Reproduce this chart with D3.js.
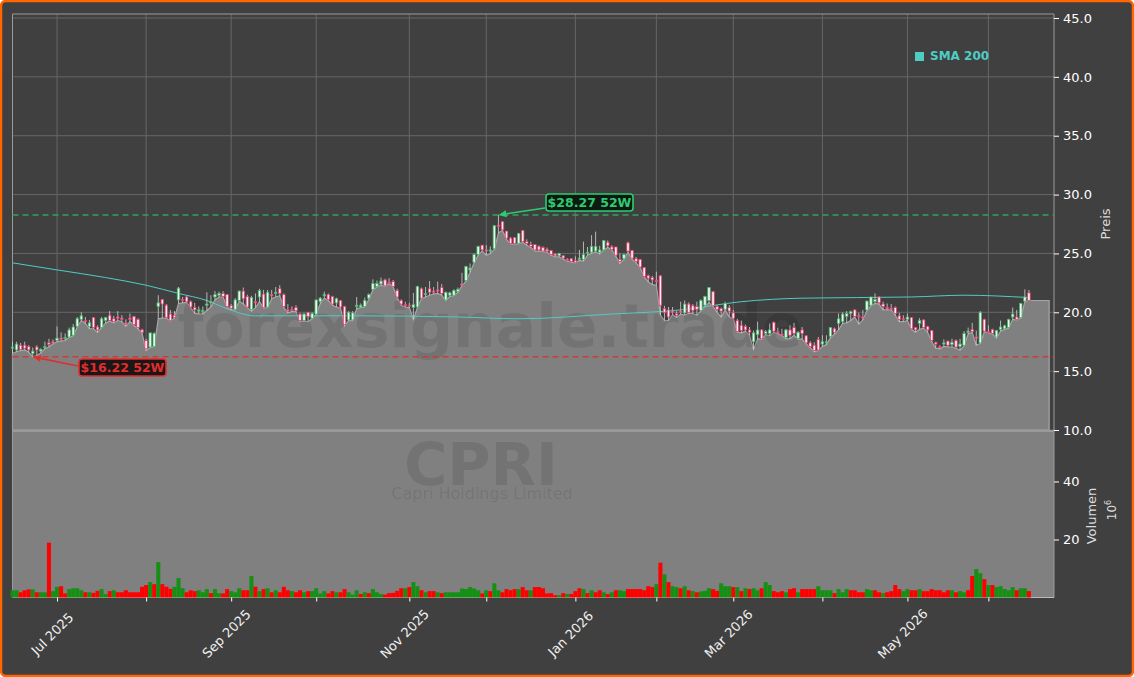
<!DOCTYPE html>
<html><head><meta charset="utf-8">
<script src="https://cdn.jsdelivr.net/npm/d3@7/dist/d3.min.js"></script>
<style>html,body{margin:0;padding:0;background:#fff}svg{display:block}text{font-family:"DejaVu Sans",sans-serif}</style>
</head><body><svg id="c" width="1134" height="677"></svg>
<script>
const opens=[16.95,16.8,17.2,17.2,17.1,16.5,17.05,16.7,17,17.4,
17.5,17.6,17.8,17.8,17.9,18.05,18.8,19.4,19.3,18.8,
19.55,18.75,18.7,19.3,19.75,19.45,19.6,19.5,19.1,19.5,
19.65,19.4,18.5,17.6,17.05,17.1,20.5,21.1,20.6,19.85,
19.75,21.05,21.1,21.3,20.9,20.4,20.1,20.1,20.6,20.8,
21.3,21.45,21.6,21.5,20.55,20.25,21,21.8,21.35,20.25,
20.9,21.3,21.55,20.45,21.5,21.6,22,21.5,20.2,20.25,
20.4,19.85,19.3,20,19.5,19.85,20.9,21.4,21.5,21.35,
20.8,21,20.5,19.35,19.35,20.5,20.45,20.5,21.2,21.95,
22.2,22.4,22.75,22.55,22.6,21.85,21,20.65,20.6,20.4,
20.45,22,21.5,22,21.8,21.9,22.1,21.05,21.45,21.45,
21.75,22.4,22.7,23.6,24.25,24.9,25.7,25.3,25.2,25.4,
27.4,27.7,26.9,26.3,26.35,25.85,26.95,26,25.75,25.75,
25.6,25.5,25.35,25.25,24.95,24.8,24.8,24.5,24.55,24.4,
24.5,24.5,25.05,25.1,25.2,25.1,25.3,25.95,25.55,25.55,
24.5,24.55,25.9,25.25,24.55,24.5,23.8,23.1,22.95,22.7,
23.1,20.3,20.2,20.1,19.9,20.1,19.95,20.7,20.55,20.5,
20.15,20.6,21,21.75,20.5,20.3,20.25,20.4,19.95,19.3,
18.9,18.8,18.5,17.5,18.1,18.5,18.2,18.2,19.15,18.35,
18.15,17.85,18.5,18.7,17.8,18.5,18,17.4,17.2,17.7,
17.3,17.4,17.95,18.6,19.05,19.2,19.65,19.9,20.2,19.7,
19.6,20.2,20.6,20.9,21.3,20.7,20.4,20.35,20.4,19.7,
19.45,19.4,19.55,18.7,19.05,19.35,18.8,18.45,17.45,17.1,
17.3,17.55,17.25,17.6,17.1,17.2,18.3,18.55,17.9,17.4,
19.4,18.35,18.55,17.9,18.55,18.6,18.7,19.6,19.6,19.55,
20.95,21.65];
const closes=[17.05,17.3,16.85,16.95,16.8,16.7,16.8,16.85,17.1,17.25,
17.4,17.8,17.7,17.85,18.5,18.75,19.45,19.7,19.2,19.1,
18.7,18.5,19.45,19.55,19.3,19.2,19.5,19.4,19,19.4,
18.95,18.7,18.3,16.9,18.25,18.2,20.8,20.7,19.55,19.3,
19.55,22.05,21,20.9,20.45,20.2,20.2,20.15,20.7,20.9,
21.5,21.6,21.35,20.5,20.35,21.05,21.8,21.15,20.45,21.25,
20.8,21.85,20.4,21.7,21.4,21.7,21.6,20.5,20.1,20.2,
20.13,19.3,19.85,19.65,19.9,21.05,21.2,21.5,21.1,20.7,
21.15,20.45,18.95,20,19.95,20.6,20.6,21,21.5,22.45,
22.45,22.65,22.25,22.5,22.2,21.3,20.7,20.6,20.55,20.65,
22.2,21.2,21.6,21.7,21.7,21.8,21.6,21.7,21.65,21.85,
21.95,22.3,23.9,23.75,24.9,25.6,25.3,25.2,25.3,27.35,
27.3,27,26.3,25.85,25.85,26.7,26,25.85,25.6,25.3,
25.3,25.2,25.2,24.9,24.8,25,24.6,24.4,24.3,24.25,
24.6,24.9,25.1,25.6,25.6,25.3,26.1,25.65,25.35,24.85,
24.3,24.9,25.2,24.6,24.3,23.85,23.05,22.9,22.75,22.6,
20.6,20,19.6,20,19.75,20,20.7,20,20.15,20.25,
21,21.35,22.1,20.55,20.25,20.1,20.75,20.1,19.5,18.35,
18.45,18.5,18.3,18.25,18.5,17.75,18.35,18.5,18.4,18.3,
18.1,18.5,18.05,18.2,18.3,18.2,17.4,17.1,16.75,16.8,
17.5,17.5,18.7,18.3,19.45,19.85,19.9,20.05,19.65,19.65,
19.5,20.95,21.3,21.1,20.8,20.5,20.3,20.3,19.9,19.4,
19.4,19.6,18.6,18.5,19.3,18.7,18.5,17.6,17.3,17,
17.4,17.2,17.45,17.05,17.3,18.2,18.4,18.35,17.8,20,
18.4,18.3,18.2,18.45,18.75,18.85,19.4,19.85,19.4,20.75,
21.3,21];
const highs=[17.5,17.5,17.4,17.5,17.2,17,17.2,16.95,17.5,17.75,
17.7,18.8,18.3,18.2,18.7,19,19.6,20,19.6,19.35,
19.6,18.9,19.6,19.6,20.1,19.7,20.1,19.75,19.4,19.9,
19.7,19.5,18.6,17.75,18.25,18.3,21.45,21.1,20.7,20.2,
20.1,22.15,21.3,21.4,21,20.8,20.5,20.5,21.7,21.45,
21.8,21.75,21.8,21.55,20.7,21.2,21.85,22.1,21.5,21.4,
21.6,22,21.9,21.9,21.9,22.15,22.3,21.6,20.7,20.5,
20.6,19.95,19.95,20,20,21.05,21.3,21.75,21.6,21.4,
21.25,21.05,20.55,20.1,20.1,21.3,20.75,21.25,21.6,22.8,
22.7,22.95,22.85,22.9,22.75,22,21.1,20.9,20.8,21.65,
22.25,22.1,22.15,22.65,22.15,22.6,22.4,21.75,21.75,21.95,
22.1,23.35,23.95,24.15,25,25.65,25.7,25.7,25.6,27.4,
28.27,27.75,26.9,26.4,26.4,26.75,27,26.2,26,25.8,
25.7,25.6,25.5,25.3,25,25.05,24.85,24.6,24.6,24.75,
25.3,26,25.55,26.55,26.85,25.65,26.15,26.1,25.7,25.55,
25,25,26,25.3,24.7,24.5,23.85,23.2,23.1,23.45,
23.15,20.55,20.45,20.45,20.1,20.9,21,20.85,20.7,20.9,
21.1,21.4,22.15,21.8,20.6,20.4,20.9,20.6,20.2,19.45,
19.3,18.95,18.75,18.45,19.2,18.55,18.5,19.05,19.2,18.7,
18.6,18.6,18.9,19.1,18.4,18.75,18.05,17.55,17.45,17.9,
18.05,18.05,18.75,18.7,19.9,20,20.1,20.15,20.25,19.95,
20.2,21,21.3,21.6,21.35,20.9,20.75,20.7,20.5,19.95,
19.75,19.9,19.6,18.75,19.5,19.4,18.85,18.5,17.5,17.2,
17.7,17.6,17.75,17.7,17.75,18.4,18.7,19.1,18.45,20.1,
19.45,18.9,18.6,18.5,19.3,18.95,19.45,20.4,20.2,20.8,
21.95,21.9];
const lows=[16.5,16.65,16.75,16.8,16.6,16.22,16.3,16.55,16.9,17.05,
17.3,17.5,17.55,17.6,17.85,18,18.75,19.3,19.05,18.6,
18.6,18.3,18.7,19.1,19.25,19.1,19.3,19.2,18.8,19.2,
18.9,18.6,18.2,16.75,17,17.1,19.45,19.5,19.5,19.25,
19.5,20.75,20.8,20.85,20.4,19.9,19.85,19.85,20.15,20.45,
21.05,21.3,21.3,20.45,20.2,20.2,20.95,20.7,20.4,20.1,
20.4,20.9,20.35,20.4,21.15,21.3,21.4,20.4,19.95,20.05,
20.05,19.2,19.25,19.2,19.45,19.85,20.75,21.2,21,20.6,
20.45,20.35,18.85,19.3,19.3,20.3,20.4,20.45,21.1,21.9,
22.15,22.3,22.2,22.45,22.15,21.25,20.6,20.45,20.4,19.4,
20.4,21.15,21.3,21.45,21.55,21.6,21.45,21,21.35,21.4,
21.7,22.25,22.65,23.4,24.2,24.85,25.2,24.85,25,25.35,
26.75,26.95,26.2,25.8,25.8,25.8,25.95,25.7,25.5,25.2,
25.2,25.15,25.1,24.85,24.7,24.7,24.5,24.35,24.25,24.2,
24.4,24.35,24.85,25,25.1,24.95,25.3,25.5,25.3,24.75,
24.15,24.5,25.1,24.5,24.2,23.8,23,22.6,22.35,22.3,
19.75,19.3,19.3,19.8,19.55,19.85,19.75,19.9,19.9,19.75,
20.1,20.5,20.8,20.5,20,19.6,20.2,19.6,19.45,18.3,
18.25,18.4,18.05,16.85,17.75,17.7,18.1,18,18.3,18.2,
18,17.75,17.75,18.05,17.7,17.75,17.3,17,16.65,16.75,
17.1,17.25,17.85,18.15,18.5,19.05,19.1,19.3,19.6,19,
19.35,20.15,20.55,20.75,20.7,20.2,20.2,20.2,19.75,19.2,
19.2,19.3,18.55,18.3,18.55,18.65,18.3,17.5,16.95,16.9,
17.1,17.05,17.05,16.95,16.77,17.15,18.15,18.3,17.2,17.35,
18.35,18.25,18.15,17.8,18.4,18.55,18.65,19.4,19.35,19.5,
20.9,21];
const vols=[2.5,2.5,1.8,2.5,2.8,2.8,1.8,1.8,1.8,18.9,
2.2,3.7,3.9,1.4,2.9,3.2,3.2,2.5,1.8,1.8,
1.6,2.3,2.9,1.2,2.2,2.5,1.8,1.8,2.5,1.8,
1.8,1.8,3.7,4.3,5.3,4.6,12.2,4.6,3.7,3,
3.7,6.7,3.2,1.8,2.5,2.2,2.5,1.8,2.9,1.5,
2.9,1.5,1.4,2.9,2.2,1.8,3.2,2.5,2.5,7.4,
3.7,2.2,2.9,3.2,1.8,2.5,1.8,3.7,2.5,2.2,
1.8,2.5,1.8,2.2,2.2,3.2,1.4,2.2,1.4,2.2,
1.8,1.8,2.9,1.8,1,2.5,1.2,1.8,1.5,2.9,
1.8,1.2,1,1.5,1.6,2.3,3.2,3.2,3.6,5.3,
3.9,2.5,1.8,2.2,2.2,1.8,1.5,1.8,1.8,1.8,
1.8,3.1,2.9,3.6,3.1,2.5,1.4,2.5,2.2,4.9,
2.5,1.8,2.9,2.5,2.9,2.9,3.6,2.5,2.5,3.6,
3.6,3.2,1.4,1.5,0.8,0.8,1.5,1.2,1.2,2.2,
3.2,2.9,1.5,2.5,1.8,2.5,1.8,1.2,1.8,2.5,
2.5,2.2,2.9,2.9,2.9,2.9,2.5,3.9,3.6,4.6,
12,8,5.3,3.9,3.6,3.2,3.9,2.5,2.2,1.8,
2.1,2.3,3.2,2.9,2.3,4.9,3.9,3.9,3.6,3.6,
2.2,3.2,2.9,3.2,2.5,3.2,5.3,4.3,2.2,1.8,
2.2,1.8,2.9,3.2,1.8,2.9,2.9,2.9,2.9,3.9,
2.5,2.5,2.5,1.5,2.9,1.8,2.9,2.5,2.5,1.8,
1.8,2.9,2.5,2.5,1.8,1.5,1.8,2.2,4.3,2.9,
2.2,2.9,2.5,2.5,2.9,2.2,2.2,2.9,2.5,2.5,
1.8,2.5,2.5,1.8,2.2,1.8,2.5,7.4,9.8,8.4,
6.3,4.3,4.3,3.6,3.9,2.9,2.5,3.6,2.5,3.2,
3.2,2.2];
const volDir="ggrrrgrggrggrrgggg"+"rg"+"rrggrgrrrrrrrrgrgrrrgggrrrgggrgg"+"rrgggrrgrgrgrrgrrgr";
const volUp=[
"gggrrgrggr","ggrrgggg".padEnd(8)+"rg","rrggrgrrrr","rrrrgrgrrr",
"gggrrrgggg","rgrrrggggg","ggrrgrgggg","rgrrgrgrrg",
"rrgggrgggr","rgrrrrrggr","rrrrrrggrr","rrrrrrgrgr","grrgrrrgrr","ggrgrrgrrg"
];
// direction of each volume bar, g = up day, r = down day
const volColors=("gggrrgrggr"+"ggrrgggrgr".slice(0,0)+
"rg".slice(0,0)+"").length?null:null;
const volG=[0,1,5,7,8,10,11,14,15,16,17,19,22,23,25,34,36,40,41,42,46,47,48,50,51,54,55,56,59,61,63,65,69,
72,74,75,76,77,80,83,84,85,87,89,90,91,97,99,100,102,105,107,108,109,110,111,112,113,114,115,117,119,120,125,128,135,137,141,143,146,148,150,151,159,161,163,164,166,168,
170,171,172,175,176,177,179,181,183,184,186,187,191,194,199,200,201,202,204,205,206,211,212,215,220,221,224,232,234,235,238,239,241,243,244,245,246,247,249,250];
const smaIdx=[0,12,24,36,47,58,72,90,120,145,175,195,225,250];
const smaVals=[24.2,23.6,23,22.4,21.7,21,20.4,19.9,19.7];
const smaIdxFull=[0,11,23,33,41,48,53,60,85,110,125,148,165,180,195,222,235,251];
const smaFull=[24.2,23.6,22.95,22.3,21.6,21,20.3,19.7,19.7,19.6,19.45,19.85,20.2,20.9,21.2,21.3,21.45,21.25];
const priceTicks=[10,15,20,25,30,35,40,45];
const volTicks=[20,40];
const monthIdx=[11,33,54,75,98,117,139,159,178,200,221,241];
const monthLabels=["Jul 2025","","Sep 2025","","Nov 2025","","Jan 2026","","Mar 2026","","May 2026",""];
const highLevel=28.27, lowLevel=16.22;
const highIdx=120, lowIdx=5;

const svg=d3.select("#c");
svg.append("rect").attr("x",1).attr("y",1).attr("width",1132).attr("height",675).attr("rx",5)
  .attr("fill","#404040").attr("stroke","#ff6600").attr("stroke-width",2.5);
const L=12.5,R=1054,T=14,PB=430.5,VT=431,VB=597.5;
const x=d3.scaleLinear().domain([0,257.2]).range([L+0.0,R]);
const y=d3.scaleLinear().domain([10,45.34]).range([430,14]);
const v=d3.scaleLinear().domain([0,57.4]).range([VB,VT]);

const g=svg.append("g");
// grid
g.selectAll(".gy").data(priceTicks).join("line").attr("x1",L).attr("x2",R).attr("y1",d=>y(d)).attr("y2",d=>y(d)).attr("stroke","#666").attr("stroke-width",1);
g.selectAll(".gx").data(monthIdx).join("line").attr("x1",d=>x(d)).attr("x2",d=>x(d)).attr("y1",T).attr("y2",PB).attr("stroke","#666").attr("stroke-width",1);
// area
const areaData=lows.concat(d3.range(5).map(()=>lows[lows.length-1]));
const area=d3.area().x((d,i)=>x(i)).y0(y(10)).y1(d=>y(d));
g.append("path").datum(areaData).attr("d",area).attr("fill","#808080").attr("stroke","#a6a6a6").attr("stroke-width",1.2);
// volume panel
g.append("rect").attr("x",L).attr("y",VT).attr("width",R-L).attr("height",VB-VT).attr("fill","#808080");
g.append("line").attr("x1",L).attr("x2",R).attr("y1",VT).attr("y2",VT).attr("stroke","#9a9a9a").attr("stroke-width",2);
// spines
g.append("path").attr("d",`M${L},${VB}V${T}H${R}V${VB}`).attr("fill","none").attr("stroke","#9a9a9a").attr("stroke-width",1);
g.append("line").attr("x1",L).attr("x2",R).attr("y1",VB).attr("y2",VB).attr("stroke","#bbb").attr("stroke-width",1);
// watermarks
g.append("text").attr("x",490).attr("y",347).attr("text-anchor","middle").attr("font-size",60).attr("font-weight","bold").attr("fill","#000").attr("fill-opacity",0.1).text("forexsignale.trade");
g.append("text").attr("x",481).attr("y",485).attr("text-anchor","middle").attr("font-size",59).attr("font-weight","bold").attr("fill","#000").attr("fill-opacity",0.1).text("CPRI");
g.append("text").attr("x",482).attr("y",499).attr("text-anchor","middle").attr("font-size",16).attr("fill","#000").attr("fill-opacity",0.1).text("Capri Holdings Limited");
// levels
const lvl=[[highLevel,"#2fa35f"],[lowLevel,"#cf3a3a"]];
g.selectAll(".lvl").data(lvl).join("line").attr("x1",L).attr("x2",R).attr("y1",d=>y(d[0])).attr("y2",d=>y(d[0])).attr("stroke",d=>d[1]).attr("stroke-width",1.5).attr("stroke-dasharray","6,4");
// SMA
g.append("path").datum(smaIdxFull.map((d,i)=>[d,smaFull[i]])).attr("d",d3.line().x(d=>x(d[0])).y(d=>y(d[1])).curve(d3.curveMonotoneX)).attr("fill","none").attr("stroke","#4ecdc4").attr("stroke-width",1);
// candles
const idx=d3.range(lows.length);
g.selectAll(".w").data(idx).join("line").attr("x1",i=>x(i)).attr("x2",i=>x(i)).attr("y1",i=>y(highs[i])).attr("y2",i=>y(lows[i])).attr("stroke","#d4d4d4").attr("stroke-width",0.8);
g.selectAll(".b").data(idx).join("rect").attr("x",i=>x(i)-1.25).attr("width",2.5)
 .attr("y",i=>y(Math.max(opens[i],closes[i]))).attr("height",i=>Math.max(1,Math.abs(y(opens[i])-y(closes[i]))))
 .attr("fill","#f3f3f3").attr("stroke",i=>closes[i]>=opens[i]?"#3fb565":"#e8386d").attr("stroke-width",0.8);
// volume bars
const gs=new Set(volG);
g.selectAll(".v").data(vols).join("rect").attr("x",(d,i)=>x(i)-2.02).attr("width",4.05).attr("y",d=>v(d)).attr("height",d=>VB-v(d)).attr("fill",(d,i)=>gs.has(i)?"#159015":"#ff0000");
// axes
const ya=d3.axisRight(y).tickValues(priceTicks).tickFormat(d3.format(".1f")).tickSize(5).tickPadding(4);
const yag=svg.append("g").attr("transform",`translate(${R},0)`).call(ya);
const va=d3.axisRight(v).tickValues(volTicks).tickFormat(d3.format("d")).tickSize(5).tickPadding(4);
const vag=svg.append("g").attr("transform",`translate(${R},0)`).call(va);
const xa=d3.axisBottom(x).tickValues(monthIdx).tickFormat("").tickSize(4);
const xag=svg.append("g").attr("transform",`translate(0,${VB})`).call(xa);
[yag,vag,xag].forEach(a=>{a.select(".domain").remove();a.selectAll("line").attr("stroke","#fff");a.selectAll("text").attr("fill","#fff").attr("font-size",13).attr("font-family","DejaVu Sans");});
svg.selectAll(".mlab").data(monthIdx).join("text").attr("text-anchor","middle").attr("font-size",13).attr("fill","#f0f0f0")
 .attr("transform",d=>`translate(${x(d)-1.5},637) rotate(-45)`).text((d,i)=>monthLabels[i]);
// axis titles
svg.append("text").attr("transform","translate(1110,224) rotate(-90)").attr("text-anchor","middle").attr("font-size",13).attr("fill","#ddd").text("Preis");
svg.append("text").attr("transform","translate(1096,516) rotate(-90)").attr("text-anchor","middle").attr("font-size",13).attr("fill","#ddd").text("Volumen");
const ex=svg.append("text").attr("transform","translate(1116,510) rotate(-90)").attr("text-anchor","middle").attr("font-size",12).attr("fill","#ddd");
ex.append("tspan").text("10");
ex.append("tspan").attr("dy",-5).attr("font-size",8).text("6");
// legend
svg.append("rect").attr("x",915).attr("y",52).attr("width",9).attr("height",9).attr("fill","#4ecdc4");
svg.append("text").attr("x",930).attr("y",60).attr("font-size",12).attr("font-weight","bold").attr("fill","#4ecdc4").text("SMA 200");
// annotations
function note(ix,val,bx,by,bw,bh,ax,ay,col,bg,label){
  const tx=x(ix),ty=y(val);
  const a=Math.atan2(ty-ay,tx-ax),h=8,w=3.5;
  svg.append("line").attr("x1",ax).attr("y1",ay).attr("x2",tx-Math.cos(a)*h).attr("y2",ty-Math.sin(a)*h).attr("stroke",col).attr("stroke-width",1.6);
  const p=[[tx,ty],[tx-Math.cos(a)*h-Math.sin(a)*w,ty-Math.sin(a)*h+Math.cos(a)*w],[tx-Math.cos(a)*h+Math.sin(a)*w,ty-Math.sin(a)*h-Math.cos(a)*w]];
  svg.append("polygon").attr("points",p.map(d=>d.join(",")).join(" ")).attr("fill",col);
  svg.append("rect").attr("x",bx).attr("y",by).attr("width",bw).attr("height",bh).attr("rx",3).attr("fill",bg).attr("stroke",col).attr("stroke-width",1.6);
  svg.append("text").attr("x",bx+bw/2).attr("y",by+bh/2+4.5).attr("text-anchor","middle").attr("font-size",12.5).attr("font-weight","bold").attr("fill",col).text(label);
}
note(highIdx,highLevel,546,194,87,17,545,208,"#2ecc71","#0d1a12","$28.27 52W");
note(lowIdx,lowLevel,79,359,87,17,78,366,"#e02f2f","#1c1616","$16.22 52W");
</script></body></html>
